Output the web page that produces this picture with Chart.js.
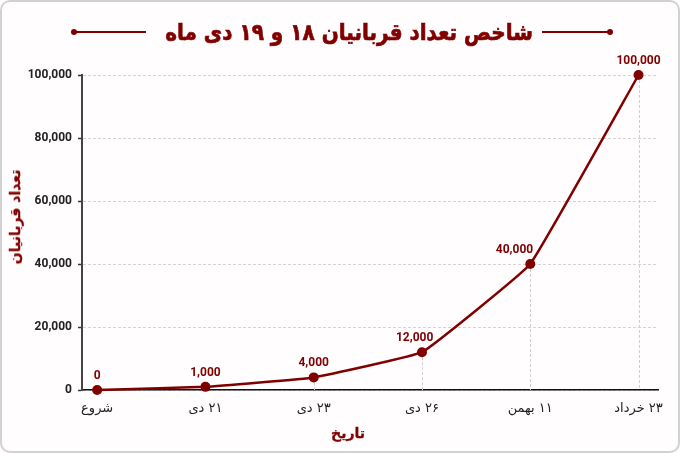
<!DOCTYPE html>
<html lang="fa">
<head>
<meta charset="utf-8">
<script src="https://cdn.jsdelivr.net/npm/chart.js@4.4.1/dist/chart.umd.min.js"></script>
<style>
  html, body { margin: 0; padding: 0; background: #fff; }
  #wrap { position: relative; width: 680px; height: 453px; background: #fffdfd; overflow: hidden; }
  #card { position: absolute; left: 0; top: 0; width: 680px; height: 453px; box-sizing: border-box;
          border: 2px solid #d2d2d2; border-radius: 10px; pointer-events: none; }
  #chartBox { position: absolute; left: 0; top: 0; width: 680px; height: 453px; }
  #title { position: absolute; left: 349px; top: 32px; transform: translate(-50%, -50%) scaleX(0.87);
           font-family: "DejaVu Sans", sans-serif; font-weight: bold; font-size: 23px; color: #800000;
           -webkit-text-stroke: 0.7px #800000; direction: rtl; white-space: nowrap; }
  .deco { position: absolute; top: 31px; height: 2px; background: #800000; }
  .dot { position: absolute; top: 29px; width: 6px; height: 6px; border-radius: 50%; background: #800000; }
  .axisTitle { position: absolute; font-family: "DejaVu Sans", sans-serif; font-weight: bold; font-size: 14px;
               color: #800000; -webkit-text-stroke: 0.3px #800000; white-space: nowrap; direction: rtl; }
  #yTitle { left: 15px; top: 217px; transform: translate(-50%, -50%) rotate(-90deg); }
  #xTitle { left: 348px; top: 433px; transform: translate(-50%, -50%); }
</style>
</head>
<body>
<div id="wrap">
  <div id="chartBox"><canvas id="c" dir="rtl"></canvas></div>
  <div class="deco" style="left:74px; width:72px"></div>
  <div class="dot" style="left:71px"></div>
  <div class="deco" style="left:542px; width:68px"></div>
  <div class="dot" style="left:607px"></div>
  <div id="title">شاخص تعداد قربانیان ۱۸ و ۱۹ دی ماه</div>
  <div class="axisTitle" id="yTitle">تعداد قربانیان</div>
  <div class="axisTitle" id="xTitle">تاریخ</div>
  <div id="card"></div>
</div>
<script>
const categories = ["شروع", "۲۱ دی", "۲۳ دی", "۲۶ دی", "۱۱ بهمن", "۲۳ خرداد"];
const victims = [0, 1000, 4000, 12000, 40000, 100000];
const yTicks = [0, 20000, 40000, 60000, 80000, 100000];

const fmt = v => Number(v).toLocaleString('en-US');
const RED = '#800000';

// dashed drop lines from each point down to the x axis
const dropLines = {
  id: 'dropLines',
  beforeDatasetsDraw(chart) {
    const ctx = chart.ctx;
    const meta = chart.getDatasetMeta(0);
    const bottom = chart.chartArea.bottom;
    ctx.save();
    ctx.strokeStyle = '#cfcfcf';
    ctx.lineWidth = 1;
    ctx.setLineDash([3, 2]);
    meta.data.forEach(pt => {
      if (bottom - pt.y < 2) return;
      ctx.beginPath();
      ctx.moveTo(Math.round(pt.x) + 0.5, pt.y);
      ctx.lineTo(Math.round(pt.x) + 0.5, bottom);
      ctx.stroke();
    });
    ctx.restore();
  }
};

// value labels above points, nudged left where the outgoing segment climbs steeply
const dataLabels = {
  id: 'dataLabels',
  afterDatasetsDraw(chart) {
    const ctx = chart.ctx;
    const pts = chart.getDatasetMeta(0).data;
    ctx.save();
    ctx.direction = 'ltr';
    ctx.font = 'bold 12px Roboto, "DejaVu Sans", sans-serif';
    ctx.fillStyle = RED;
    ctx.textAlign = 'center';
    ctx.textBaseline = 'bottom';
    pts.forEach((pt, i) => {
      let shift = 0;
      if (i < pts.length - 1) {
        const nx = pts[i + 1];
        const slope = (pt.y - nx.y) / (nx.x - pt.x);
        shift = slope > 0.5 ? 9 * slope : 0;
      }
      ctx.fillText(fmt(victims[i]), pt.x - shift, pt.y - 8);
    });
    ctx.restore();
  }
};

new Chart(document.getElementById('c'), {
  type: 'line',
  data: {
    datasets: [{
      data: victims.map((v, i) => ({ x: i, y: v })),
      borderColor: RED,
      borderWidth: 2.5,
      pointRadius: 5,
      pointBackgroundColor: RED,
      pointBorderColor: RED,
      pointBorderWidth: 0,
      tension: 0.08,
      clip: false,
      fill: false
    }]
  },
  options: {
    responsive: true,
    maintainAspectRatio: false,
    animation: false,
    layout: { padding: { left: 0, right: 22, top: 75, bottom: 0 } },
    plugins: { legend: { display: false }, tooltip: { enabled: false }, title: { display: false } },
    scales: {
      x: {
        type: 'linear',
        min: -0.14,
        max: 5.18,
        afterBuildTicks: s => { s.ticks = categories.map((_, i) => ({ value: i })); },
        afterFit: s => { s.height = 63; },
        ticks: {
          autoSkip: false,
          maxRotation: 0,
          padding: 11,
          color: '#222',
          font: { family: '"DejaVu Sans", sans-serif', size: 13 },
          callback: v => categories[v] ?? ''
        },
        grid: { display: false, drawTicks: false },
        border: { display: true, color: '#111', width: 1.5 }
      },
      y: {
        min: 0,
        max: 100000,
        afterBuildTicks: s => { s.ticks = yTicks.map(v => ({ value: v })); },
        afterFit: s => { s.width = 82; },
        ticks: {
          padding: 6,
          color: '#222',
          font: { family: 'Roboto, sans-serif', size: 12, weight: 'bold' },
          callback: v => fmt(v)
        },
        grid: { color: '#d4d4d4', lineWidth: 1, drawTicks: true, tickLength: 4, tickColor: '#333', tickWidth: 1.5, tickBorderDash: [] },
        border: { display: true, color: '#444', width: 2, dash: [3, 2] }
      }
    }
  },
  plugins: [dropLines, dataLabels]
});
</script>
</body>
</html>
